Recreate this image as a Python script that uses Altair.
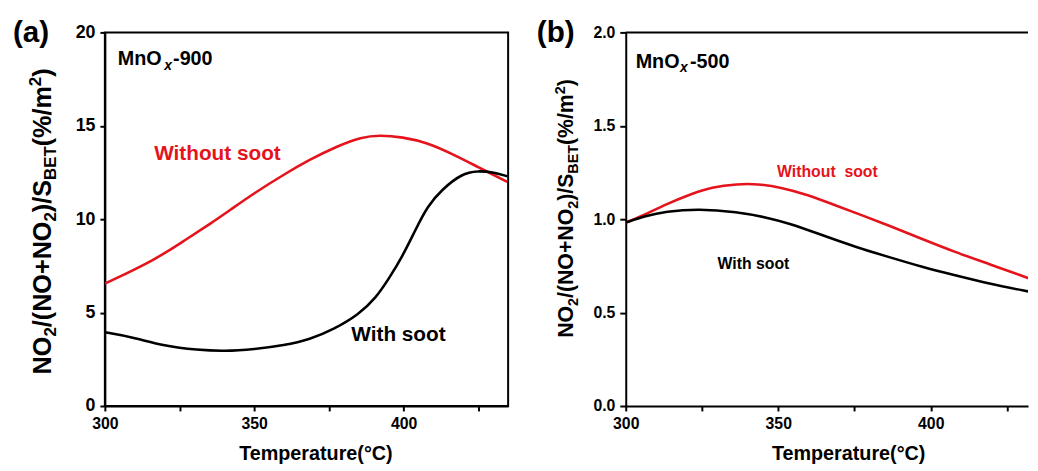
import altair as alt
import pandas as pd

FONT = "Liberation Sans"
RED = "#e5131b"

# ---------- Panel (a): MnOx-900 ----------
a_temp_wo = [300, 317, 327, 335.7, 342, 350, 360, 368.7, 377.6, 386, 391.9, 399.6, 408, 417, 424.8, 434.7]
a_val_wo = [6.55, 7.84, 8.9, 9.8, 10.5, 11.4, 12.4, 13.2, 13.9, 14.4, 14.5, 14.4, 14.1, 13.44, 12.8, 12.0]
a_temp_w = [300, 309, 320, 331, 340, 350, 360, 368.7, 376.5, 385, 390.8, 395, 399.6, 404, 408, 412.9, 419.5, 424.8, 430.4, 434.7]
a_val_w = [3.95, 3.7, 3.2, 3.0, 2.93, 3.04, 3.25, 3.57, 4.1, 4.9, 5.8, 6.8, 8.0, 9.44, 10.7, 11.6, 12.44, 12.6, 12.5, 12.3]
a_yticks = [0, 5, 10, 15, 20]
a_ann_text = ["Without soot", "With soot"]
a_ann_x = [316.5, 382.5]
a_ann_y = [13.17, 3.48]

# ---------- Panel (b): MnOx-500 ----------
b_temp_wo = [300, 306.5, 313, 321.6, 328, 336.7, 343.2, 350.8, 359.4, 368, 376.7, 386.4, 397.2, 408, 418.8, 432.3]
b_val_wo = [0.982, 1.026, 1.079, 1.136, 1.171, 1.189, 1.189, 1.171, 1.132, 1.079, 1.026, 0.965, 0.894, 0.824, 0.762, 0.683]
b_temp_w = [300, 306.5, 313, 323.8, 336.7, 345.4, 354, 364.8, 375.6, 386.4, 397.2, 408, 418.8, 432.3]
b_val_w = [0.982, 1.018, 1.041, 1.056, 1.039, 1.012, 0.977, 0.912, 0.850, 0.797, 0.744, 0.700, 0.656, 0.612]
b_yticks = [0, 0.5, 1.0, 1.5, 2.0]
b_ann_text = ["Without\u00a0 soot", "With soot"]
b_ann_x = [349.6, 330.1]
b_ann_y = [1.224, 0.735]

x_ticks = [300, 325, 350, 375, 400, 425]

# Arial/Liberation Sans Bold advance widths (per em)
W = {"N": .722, "O": .778, "2": .556, "/": .278, "(": .333, ")": .333, "+": .584,
     "S": .667, "B": .722, "E": .667, "T": .611, "%": .889, "m": .889}

YSEG = [("NO", "main"), ("2", "sub"), ("/(NO+NO", "main"), ("2", "sub"), (")/S", "main"),
        ("BET", "sub"), ("(%/m", "main"), ("2", "sup"), (")", "main")]

one = pd.DataFrame({"k": [0]})


def txt(text, x, y, fs, angle=0, style="normal", color="black"):
    return alt.Chart(one).mark_text(
        text=text, angle=angle, align="left", baseline="alphabetic", font=FONT,
        fontWeight="bold", fontStyle=style, fontSize=fs, color=color,
    ).encode(x=alt.value(x), y=alt.value(y))


def ytitle(x_main, y_start, main_fs, sub_fs, sub_shift, sup_shift):
    layers = []
    y = y_start
    for t, kind in YSEG:
        fs = main_fs if kind == "main" else sub_fs
        x = x_main + (sub_shift if kind == "sub" else (-sup_shift if kind == "sup" else 0))
        layers.append(txt(t, x, y, fs, angle=270))
        y -= sum(W[c] for c in t) * fs
    return layers


def panel(tw, vw, tws, vws, xdom, ydom, yticks, yfmt, ylab_fs, tick_y,
          ann_t, ann_x, ann_y, ann_fs, tag, name, name_pos, ytitle_args,
          title_x, title_y, width, height, border):
    df = pd.concat([
        pd.DataFrame({"T": tw, "v": vw, "s": "Without soot"}),
        pd.DataFrame({"T": tws, "v": vws, "s": "With soot"}),
    ])
    xenc = alt.X("T:Q", scale=alt.Scale(domain=xdom, nice=False, zero=False),
                 axis=alt.Axis(values=x_ticks, title="Temperature(°C)",
                               labelExpr="datum.value % 50 === 0 ? datum.label : ''",
                               labelFlush=False,
                               labelFontSize=16, titleFontSize=20, titleX=title_x, titleY=title_y,
                               titleBaseline="alphabetic", titleAlign="center", tickSize=5,
                               labelPadding=5, grid=False))
    yenc = alt.Y("v:Q", scale=alt.Scale(domain=ydom, nice=False, zero=False),
                 axis=alt.Axis(values=yticks, format=yfmt, title=None, labelFontSize=ylab_fs,
                               labelFlush=False,
                               tickSize=tick_y, labelPadding=5, grid=False))
    lines = alt.Chart(df).mark_line(clip=True, strokeWidth=2.6, interpolate="basis").encode(
        x=xenc, y=yenc,
        color=alt.Color("s:N", scale=alt.Scale(domain=["Without soot", "With soot"], range=[RED, "black"]),
                        legend=None),
        detail="s:N",
    )
    adf = pd.DataFrame({"t": ann_t, "x": ann_x, "y": ann_y, "s": ["Without soot", "With soot"]})
    ann = alt.Chart(adf).mark_text(align="left", baseline="alphabetic", font=FONT, fontWeight="bold",
                                   fontSize=ann_fs).encode(
        x=alt.X("x:Q"), y=alt.Y("y:Q"), text="t:N",
        color=alt.Color("s:N", scale=alt.Scale(domain=["Without soot", "With soot"], range=[RED, "black"]),
                        legend=None),
    )
    layers = [lines, ann]
    (nx, ny, xx, xy, rx, nfs) = name_pos
    layers += [txt("MnO", nx, ny, nfs), txt("x", xx, xy, 14, style="italic"), txt(name, rx, ny, nfs)]
    layers += ytitle(*ytitle_args)
    layers.append(txt(tag[0], tag[1], tag[2], 30))
    props = dict(width=width, height=height)
    if not border:
        layers.append(alt.Chart(one).mark_rule(color="black", strokeWidth=2).encode(
            x=alt.value(0), x2=alt.value(width), y=alt.value(0)))
        props["view"] = alt.ViewBackground(stroke="transparent")
    return alt.layer(*layers).properties(**props)


pa = panel(a_temp_wo, a_val_wo, a_temp_w, a_val_w, [300, 435], [0, 20], a_yticks, "d", 18, 5,
           a_ann_text, a_ann_x, a_ann_y, 21, ("(a)", -93, 10), "-900",
           (13, 33, 60, 38, 69, 20), (-55, 346, 25.5, 17, 6, 10),
           213, 54, 408, 378, True)
pb = panel(b_temp_wo, b_val_wo, b_temp_w, b_val_w, [300, 431.9], [0, 2], b_yticks, ".1f", 16, 6,
           b_ann_text, b_ann_x, b_ann_y, 16, ("(b)", -90, 10), "-500",
           (10, 36, 55, 40, 65, 20), (-53, 309, 21.5, 14.5, 5, 8),
           225, 54, 407, 378, False)

chart = alt.hconcat(pa, pb, spacing=27).configure(
    padding={"left": 4, "top": 7, "right": 0, "bottom": -2}, font=FONT
).configure_view(stroke="black", strokeWidth=2).configure_axis(
    domainColor="black", domainWidth=2, tickColor="black", tickWidth=2,
    labelColor="black", labelFontWeight="bold", labelFont=FONT,
    titleColor="black", titleFontWeight="bold", titleFont=FONT,
)

chart.save("out.html", embed_options={"renderer": "svg", "actions": False})
